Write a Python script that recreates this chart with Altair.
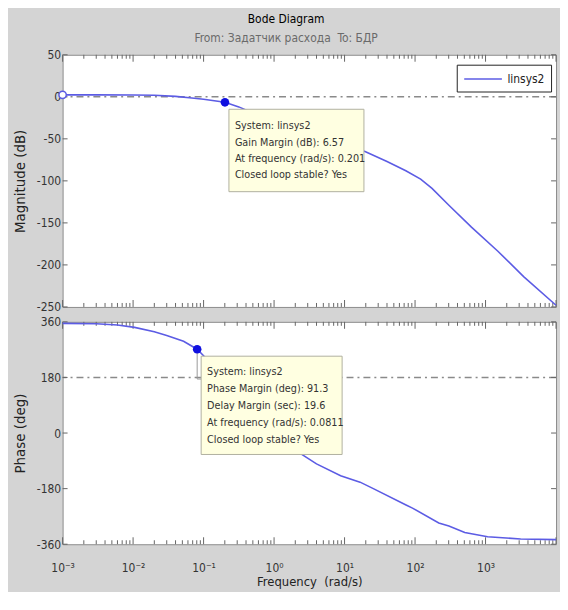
import altair as alt
import pandas as pd

# ---------------- data ----------------
series_name = "linsys2"

mag_freq = [0.001, 0.003, 0.01, 0.02, 0.04, 0.063, 0.1, 0.201, 0.316, 0.6, 1.2, 3.0, 8.0,
            19.5, 40.0, 74.0, 120.0, 174.0, 302.0, 631.0, 1510.0, 3470.0, 10000.0]
mag_db = [2.3, 2.3, 2.2, 1.8, 0.5, -1.2, -3.0, -6.57, -12.0, -22.0, -32.0, -43.0, -55.0,
          -65.0, -77.0, -88.0, -98.0, -109.0, -129.0, -155.0, -184.0, -214.0, -248.0]

phase_freq = [0.001, 0.003, 0.006, 0.0105, 0.02, 0.03, 0.052, 0.0811, 0.1, 0.2, 0.5, 1.0,
              2.0, 2.7, 4.0, 8.8, 16.6, 25.6, 74.5, 92.0, 217.0, 302.0, 507.0, 1070.0,
              3150.0, 10000.0]
phase_deg = [355, 354, 350, 342, 328, 316, 297, 271.3, 250, 170, 60, 0,
             -55, -75, -100, -138, -159, -180, -233, -243, -291, -301, -322, -336,
             -343, -345]

mag_ticks = [50, 0, -50, -100, -150, -200, -250]
phase_ticks = [360, 180, 0, -180, -360]
decade_values = [0.001, 0.01, 0.1, 1, 10, 100, 1000, 10000]
decade_labels = ["10⁻³", "10⁻²", "10⁻¹", "10⁰", "10¹", "10²", "10³", "10⁴"]
minor_mult = [2, 3, 4, 5, 6, 7, 8, 9]

mag_ref = [0]        # 0 dB reference line
phase_ref = [180]    # 180 deg reference line

start_freq, start_db = 0.001, 2.3
gm_freq, gm_db = 0.201, -6.57
pm_freq, pm_deg = 0.0811, 271.3

gm_text = "System: linsys2\nGain Margin (dB): 6.57\nAt frequency (rad/s): 0.201\nClosed loop stable? Yes"
pm_text = ("System: linsys2\nPhase Margin (deg): 91.3\nDelay Margin (sec): 19.6\n"
           "At frequency (rad/s): 0.0811\nClosed loop stable? Yes")

# ---------------- style ----------------
FONT = "Liberation Sans Narrow, DejaVu Sans Condensed, Liberation Sans, sans-serif"
LINE = "#5c5ce4"
MARK = "#1010e0"
TICK = "#666666"
REF = "#8a8a8a"
W, H1, H2 = 497, 254, 224

minor_values = [m * d for d in decade_values[:-1] for m in minor_mult]
label_values = decade_values[:-1]   # the last decade label falls outside the window

xscale = alt.Scale(type="log", domain=[decade_values[0], decade_values[-1]], nice=False)
mag_scale = alt.Scale(domain=[mag_ticks[-1], mag_ticks[0]], nice=False, zero=False)
ph_scale = alt.Scale(domain=[phase_ticks[-1], phase_ticks[0]], nice=False, zero=False)

label_expr = ""
for v, lab in zip(decade_values[:-1], decade_labels[:-1]):
    label_expr += f"datum.value < {v * 3} ? '{lab}' : "
label_expr += f"'{decade_labels[-1]}'"

x_axis_bottom = alt.Axis(values=label_values, labelExpr=label_expr, ticks=False, domain=False,
                         grid=False, labelPadding=18, labelFontSize=12, titleFontSize=13,
                         titlePadding=3, labelFlush=False, labelOverlap=False)
neg_expr = "datum.value < 0 ? '-' + abs(datum.value) : '' + datum.value"
mag_axis = alt.Axis(values=mag_ticks, labelExpr=neg_expr, ticks=False, domain=False, grid=False,
                    labelPadding=2, titlePadding=9, labelFontSize=12, titleFontSize=15,
                    labelFlush=False, minExtent=26, maxExtent=26)
ph_axis = alt.Axis(values=phase_ticks, labelExpr=neg_expr, ticks=False, domain=False, grid=False,
                   labelPadding=2, titlePadding=9, labelFontSize=12, titleFontSize=15,
                   labelFlush=False, minExtent=26, maxExtent=26)

XTITLE = "Frequency\u00a0 (rad/s)"


def xenc(field, bottom):
    if bottom:
        return alt.X(f"{field}:Q", scale=xscale, axis=x_axis_bottom, title=XTITLE)
    return alt.X(f"{field}:Q", scale=xscale, axis=None)


def yenc(field, top):
    if top:
        return alt.Y(f"{field}:Q", scale=mag_scale, axis=mag_axis, title="Magnitude (dB)")
    return alt.Y(f"{field}:Q", scale=ph_scale, axis=ph_axis, title="Phase (deg)")


def frame_ticks(is_top):
    H = H1 if is_top else H2
    layers = []
    for vals, ln in ((minor_values, 4), (decade_values, 7)):
        df = pd.DataFrame({"f": vals})
        base = alt.Chart(df).mark_rule(color=TICK, strokeWidth=1)
        layers.append(base.encode(x=xenc("f", not is_top), y=alt.value(0), y2=alt.value(ln)))
        layers.append(base.encode(x=xenc("f", not is_top), y=alt.value(H), y2=alt.value(H - ln)))
    yv = mag_ticks if is_top else phase_ticks
    dfy = pd.DataFrame({"v": yv})
    basey = alt.Chart(dfy).mark_rule(color=TICK, strokeWidth=1)
    layers.append(basey.encode(y=yenc("v", is_top), x=alt.value(0), x2=alt.value(5)))
    layers.append(basey.encode(y=yenc("v", is_top), x=alt.value(W), x2=alt.value(W - 5)))
    return layers


# ---------------- magnitude panel ----------------
mag_df = pd.DataFrame({"freq": mag_freq, "mag": mag_db, "series": series_name})
ref_top = alt.Chart(pd.DataFrame({"v": mag_ref})).mark_rule(
    color=REF, strokeWidth=1.5, strokeDash=[7, 4, 2, 4]).encode(y=yenc("v", True))

mag_line = alt.Chart(mag_df).mark_line(strokeWidth=1.6).encode(
    x=xenc("freq", False), y=yenc("mag", True),
    color=alt.Color("series:N", scale=alt.Scale(domain=[series_name], range=[LINE]), title=None,
                    legend=alt.Legend(orient="none", legendX=W - 100, legendY=10,
                                      symbolType="M-2.45,0H2.45", symbolSize=240,
                                      symbolStrokeWidth=1.5, symbolStrokeColor=LINE,
                                      symbolOffset=12, strokeColor="#222", fillColor="white",
                                      padding=6, labelFontSize=12, labelFont=FONT,
                                      labelColor="#222", labelOffset=16, cornerRadius=0)))

start_df = pd.DataFrame({"freq": [start_freq], "mag": [start_db]})
start_pt = alt.Chart(start_df).mark_circle(size=55, fill="white", stroke=LINE, strokeWidth=1.5,
                                           opacity=1).encode(x=xenc("freq", False), y=yenc("mag", True))

gm_df = pd.DataFrame({"freq": [gm_freq], "mag": [gm_db], "label": [gm_text]})
gm_pt = alt.Chart(gm_df).mark_circle(size=75, color=MARK, opacity=1).encode(
    x=xenc("freq", False), y=yenc("mag", True))
gm_box = alt.Chart(gm_df).mark_rect(fill="#ffffe1", stroke="#b0b0a0", strokeWidth=1,
                                    xOffset=4, x2Offset=140, yOffset=7, y2Offset=90).encode(
    x=xenc("freq", False), x2="freq", y=yenc("mag", True), y2="mag")
gm_txt = alt.Chart(gm_df).mark_text(align="left", baseline="alphabetic", dx=10, dy=27,
                                    lineBreak="\n", lineHeight=16.5, fontSize=10.8, font=FONT,
                                    color="#333").encode(
    x=xenc("freq", False), y=yenc("mag", True), text="label:N")

top = alt.layer(ref_top, *frame_ticks(True), mag_line, start_pt, gm_pt, gm_box, gm_txt).properties(
    width=W, height=H1)

# ---------------- phase panel ----------------
ph_df = pd.DataFrame({"freq": phase_freq, "phase": phase_deg})
ref_bot = alt.Chart(pd.DataFrame({"v": phase_ref})).mark_rule(
    color=REF, strokeWidth=1.5, strokeDash=[7, 4, 2, 4]).encode(y=yenc("v", False))
ph_line = alt.Chart(ph_df).mark_line(strokeWidth=1.6, color=LINE).encode(
    x=xenc("freq", True), y=yenc("phase", False))

pm_df = pd.DataFrame({"freq": [pm_freq], "phase": [pm_deg], "label": [pm_text]})
pm_conn_v = alt.Chart(pm_df).mark_rule(color="#999999", strokeWidth=1, y2Offset=30).encode(
    x=xenc("freq", True), y=yenc("phase", False), y2="phase")
pm_conn_h = alt.Chart(pm_df).mark_rule(color="#999999", strokeWidth=1, yOffset=30,
                                       x2Offset=9).encode(
    x=xenc("freq", True), x2="freq", y=yenc("phase", False))
pm_pt = alt.Chart(pm_df).mark_circle(size=75, color=MARK, opacity=1).encode(
    x=xenc("freq", True), y=yenc("phase", False))
pm_box = alt.Chart(pm_df).mark_rect(fill="#ffffe1", stroke="#b0b0a0", strokeWidth=1,
                                    xOffset=4, x2Offset=146, yOffset=7, y2Offset=106).encode(
    x=xenc("freq", True), x2="freq", y=yenc("phase", False), y2="phase")
pm_txt = alt.Chart(pm_df).mark_text(align="left", baseline="alphabetic", dx=10, dy=26,
                                    lineBreak="\n", lineHeight=17.2, fontSize=10.8, font=FONT,
                                    color="#333").encode(
    x=xenc("freq", True), y=yenc("phase", False), text="label:N")

bottom = alt.layer(ref_bot, *frame_ticks(False), ph_line, pm_conn_v, pm_conn_h, pm_pt,
                   pm_box, pm_txt).properties(width=W, height=H2)

chart = alt.vconcat(top, bottom, spacing=15, bounds="flush").resolve_scale(
    color="independent").resolve_legend(color="independent").properties(
    title=alt.TitleParams("Bode Diagram",
                          subtitle="From: Задатчик расхода\u00a0 To: БДР",
                          fontSize=12, subtitleFontSize=12, font=FONT, subtitleFont=FONT,
                          color="#000000", subtitleColor="#6a6a6a", fontWeight="normal",
                          subtitlePadding=8, offset=3, anchor="middle"),
    padding={"left": 4, "top": 2, "right": 0, "bottom": 0},
    background="#d4d4d4",
).configure_view(stroke="#8c8c8c", strokeWidth=1, fill="white").configure_axis(
    labelFont=FONT, titleFont=FONT, labelColor="#333333", titleColor="#222222",
    titleFontWeight="normal")

chart.save("out.html", embed_options={"renderer": "svg", "actions": False})
